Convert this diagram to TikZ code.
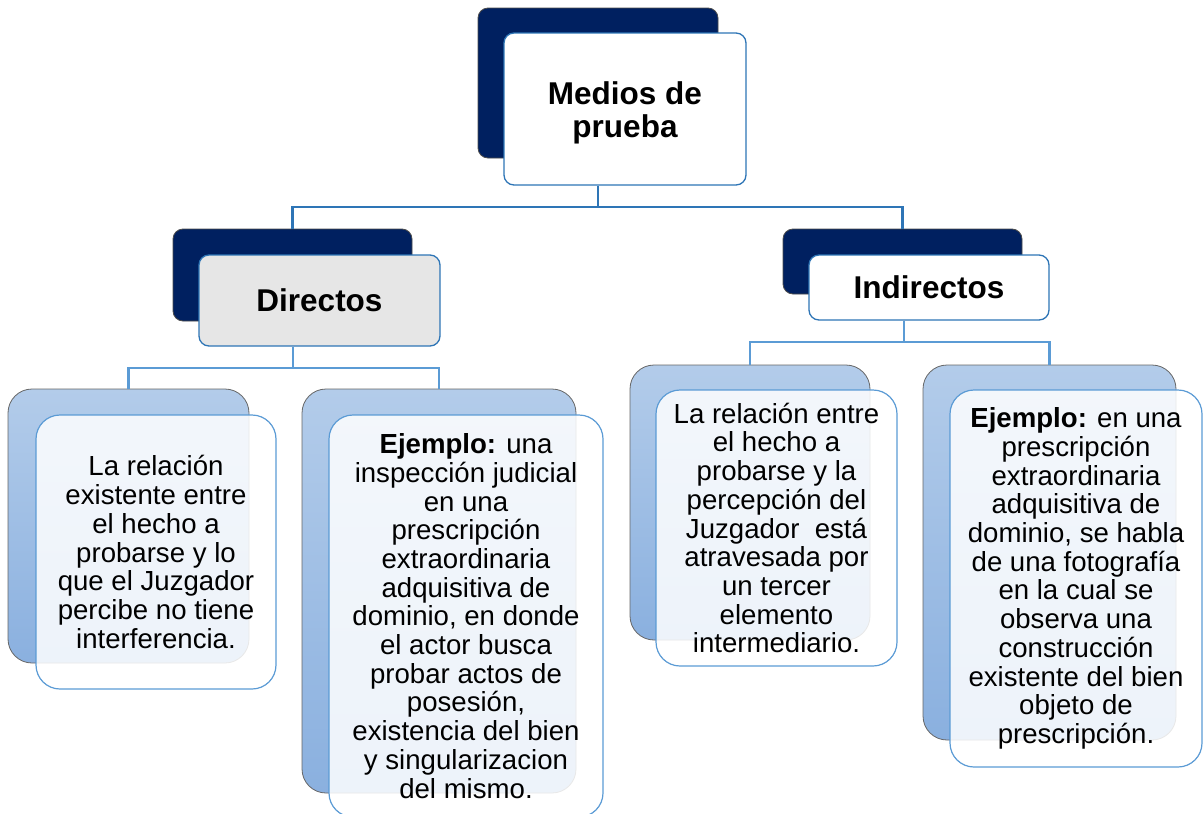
\documentclass[tikz,border=0pt]{standalone}
\usepackage{fontspec}
\setmainfont{Liberation Sans}
\definecolor{navy}{HTML}{002060}
\definecolor{bordblue}{HTML}{2E75B6}
\definecolor{leafblue}{HTML}{5B9BD5}
\definecolor{connA}{HTML}{2E75B6}
\definecolor{connB}{HTML}{5B9BD5}
\definecolor{lbtop}{HTML}{B3CCEA}
\definecolor{lbbot}{HTML}{8AB0DF}
\definecolor{dirgray}{HTML}{E6E6E6}
\newcommand\leaffnt{\fontsize{27.6}{28.7}\selectfont}
\newcommand\titlefnt{\fontsize{31.5}{33}\selectfont\bfseries}
\begin{document}
\begin{tikzpicture}[x=1pt,y=-1pt,
  backbox/.style={draw=black!70, line width=0.8pt, fill=navy, rounded corners=10pt, inner sep=0pt},
  frontbox/.style={draw=bordblue, line width=1.3pt, fill=white, rounded corners=10pt, inner sep=0pt, align=center, font=\titlefnt},
  leafback/.style={draw=black!60, line width=0.8pt, rounded corners=24pt, top color=lbtop, bottom color=lbbot, inner sep=0pt},
  leaffront/.style={draw=leafblue, line width=1.2pt, fill=white, fill opacity=0.85, draw opacity=1, text opacity=1, rounded corners=24pt, inner sep=0pt, align=center, font=\leaffnt},
  conna/.style={draw=connA, line width=2.8pt},
  connb/.style={draw=connB, line width=2.8pt}]
\useasboundingbox (0,0) rectangle (1203,814);
% back boxes
\node[backbox, minimum width=240pt, minimum height=150pt] (tb) at (598,83) {};
\node[backbox, minimum width=239pt, minimum height=92pt] (db) at (292.5,275) {};
\node[backbox, minimum width=239pt, minimum height=65pt] (ib) at (902.5,261.5) {};
% front title boxes
\node[frontbox, minimum width=242pt, minimum height=152pt] (tf) at (625,109) {\rule{0pt}{30pt}Medios de\\prueba};
\node[frontbox, fill=dirgray, minimum width=241pt, minimum height=91pt] (df) at (319.5,300.5) {Directos};
\node[frontbox, minimum width=240pt, minimum height=65pt] (if) at (929,287.5) {Indirectos};
% connectors
\coordinate (j1) at (598,207);
\coordinate (j2) at (293,368);
\coordinate (j3) at (904,342);
\draw[conna] (tb.center |- tf.south) -- (j1);
\draw[conna] (db.north) |- (j1) -| (ib.north);
% leaf back boxes
\node[leafback, minimum width=241pt, minimum height=274pt] (l1b) at (128.5,526) {};
\node[leafback, minimum width=274pt, minimum height=404pt] (l2b) at (439,591) {};
\node[leafback, minimum width=240pt, minimum height=275pt] (l3b) at (750,502.5) {};
\node[leafback, minimum width=253pt, minimum height=375pt] (l4b) at (1049.5,552.5) {};
\draw[connb] (j2 |- df.south) -- (j2);
\draw[connb] (l1b.north) |- (j2) -| (l2b.north);
\draw[connb] (j3 |- if.south) -- (j3);
\draw[connb] (l3b.north) |- (j3) -| (l4b.north);
% leaf front boxes
\node[leaffront, minimum width=240pt, minimum height=274pt] (l1f) at (156,552)
  {La relación\\existente entre\\el hecho a\\probarse y lo\\que el Juzgador\\percibe no tiene\\interferencia.};
\node[leaffront, minimum width=274pt, minimum height=402pt] (l2f) at (466,616)
  {\textbf{Ejemplo:} una\\inspección judicial\\en una\\prescripción\\extraordinaria\\adquisitiva de\\dominio, en donde\\el actor busca\\probar actos de\\posesión,\\existencia del bien\\y singularizacion\\del mismo.};
\node[leaffront, minimum width=241pt, minimum height=276pt] (l3f) at (776.5,528)
  {La relación entre\\el hecho a\\probarse y la\\percepción del\\Juzgador\ \ está\\atravesada por\\un tercer\\elemento\\intermediario.};
\node[leaffront, minimum width=252pt, minimum height=377pt] (l4f) at (1076,578.5)
  {\textbf{Ejemplo:} en una\\prescripción\\extraordinaria\\adquisitiva de\\dominio, se habla\\de una fotografía\\en la cual se\\observa una\\construcción\\existente del bien\\objeto de\\prescripción.};
\end{tikzpicture}
\end{document}
